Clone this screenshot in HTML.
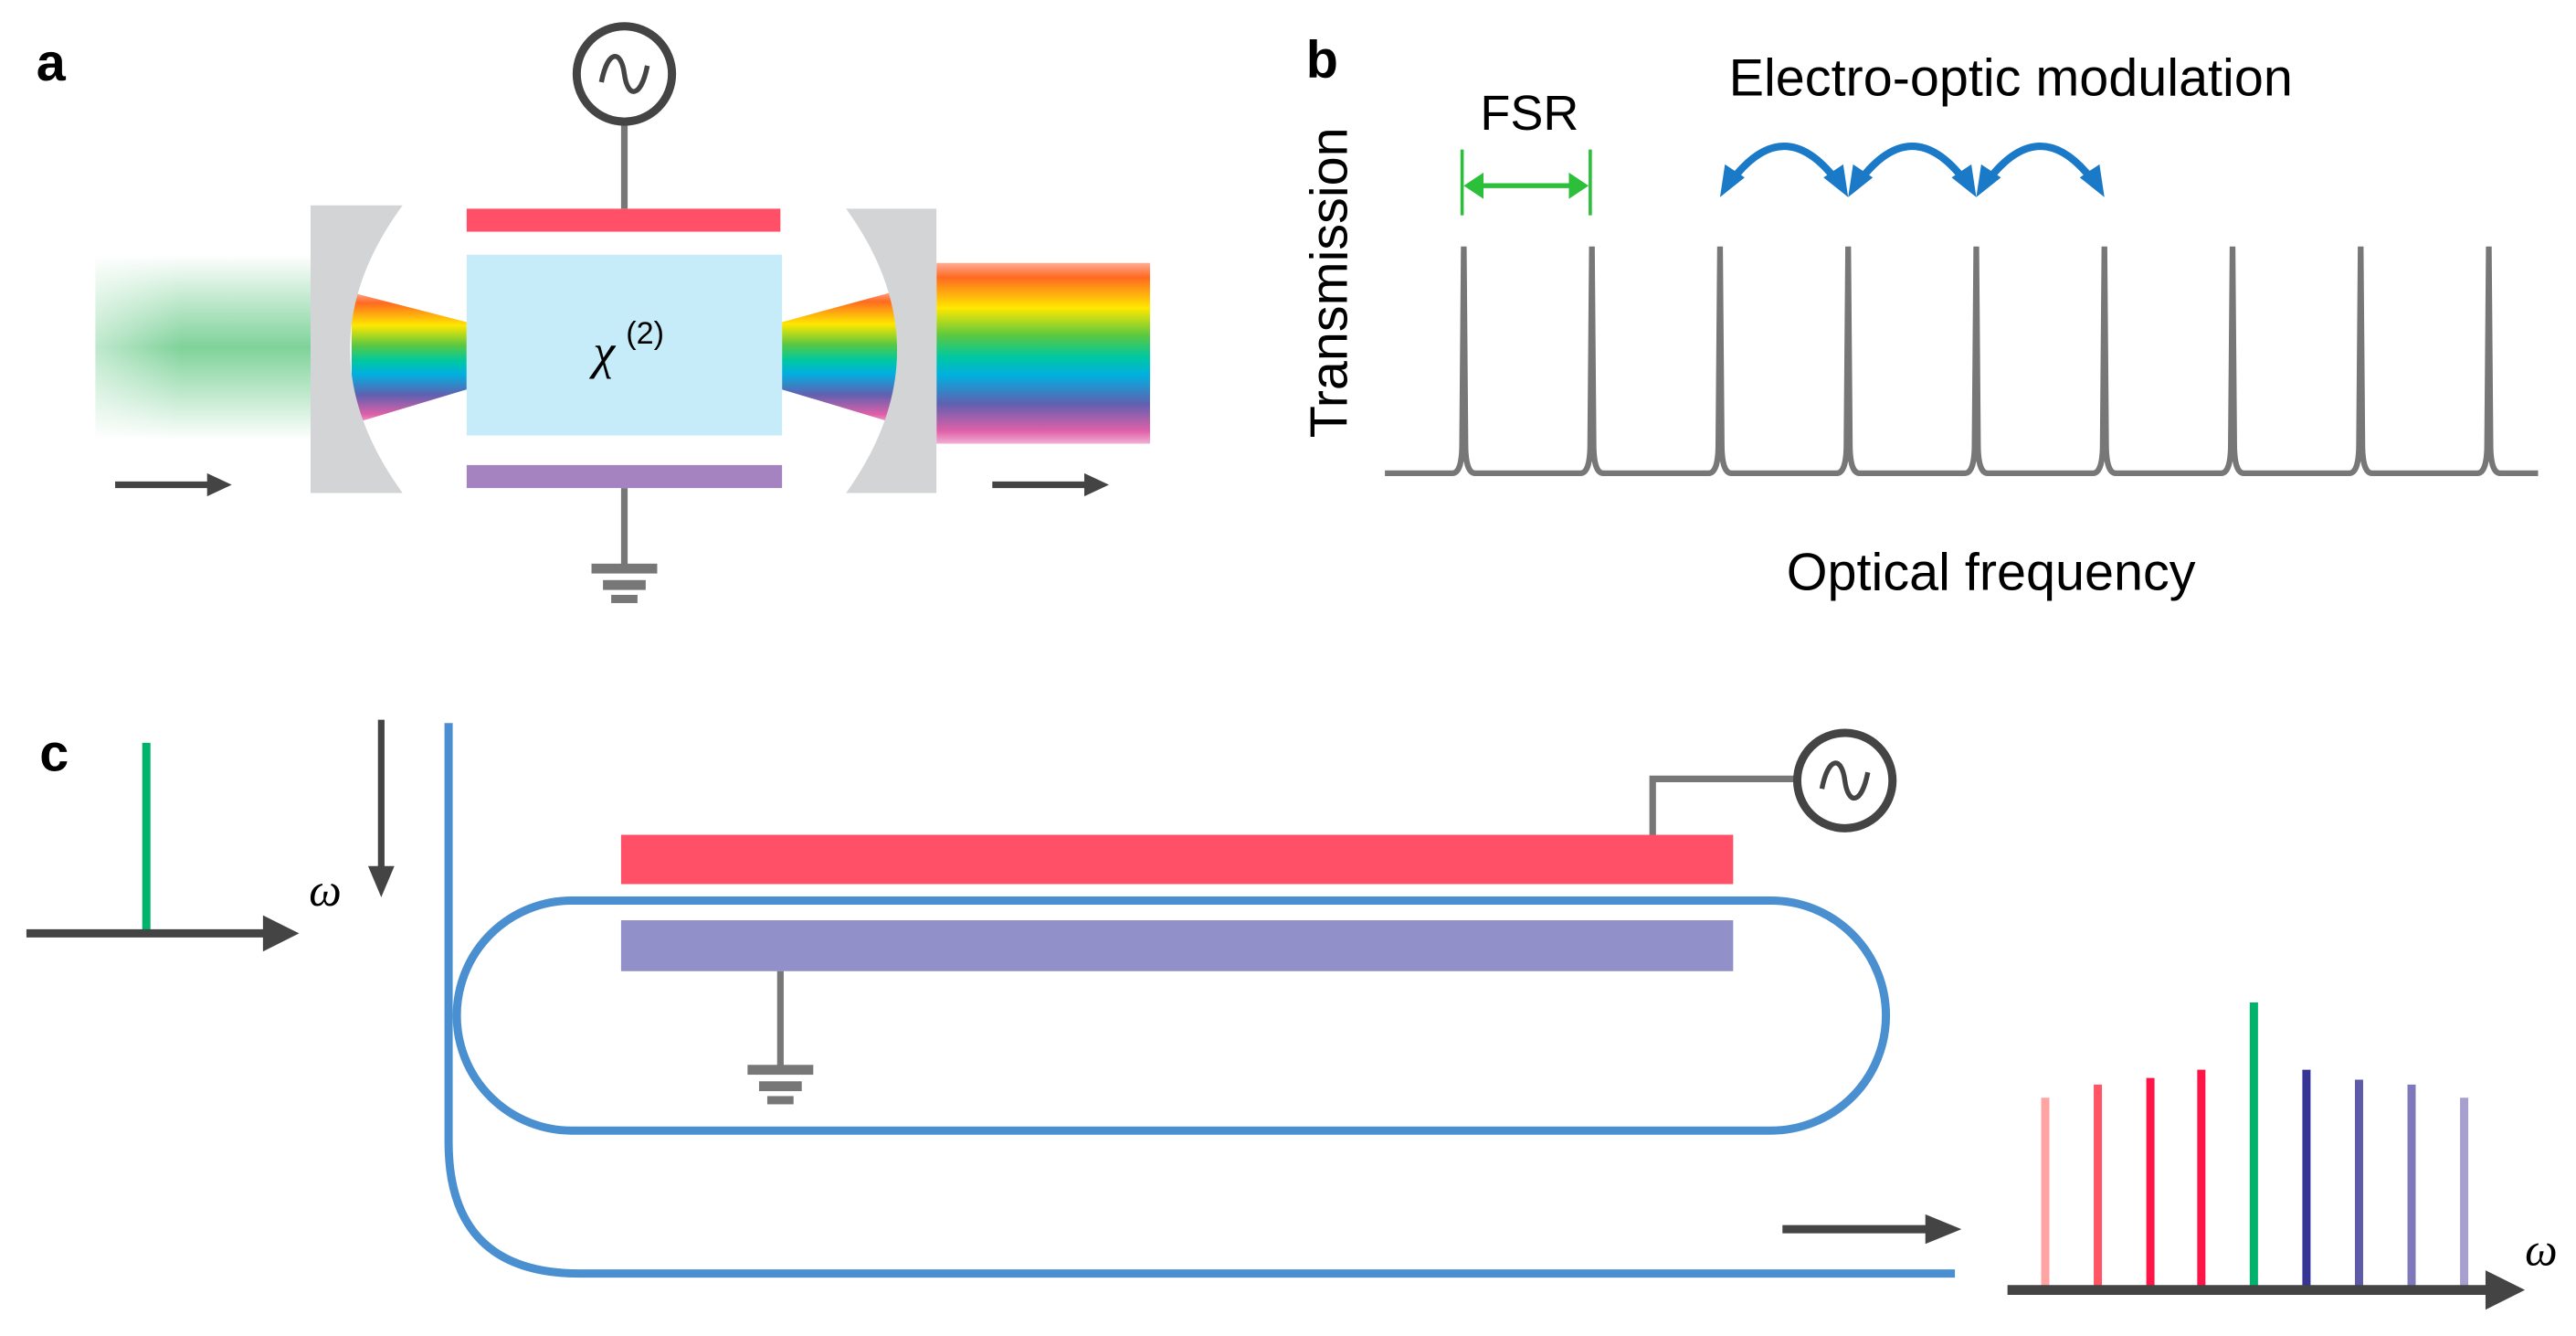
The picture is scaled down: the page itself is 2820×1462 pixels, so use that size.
<!DOCTYPE html>
<html><head><meta charset="utf-8"><style>html,body{margin:0;padding:0;background:#fff}svg{display:block}</style></head>
<body>
<svg width="2820" height="1462" viewBox="0 0 1568 813" xmlns="http://www.w3.org/2000/svg" font-family="Liberation Sans, sans-serif">
<defs>
<linearGradient id="rb" x1="0" y1="0" x2="0" y2="1">
<stop offset="0" stop-color="#ff5a28" stop-opacity="0.5"/><stop offset="0.08" stop-color="#ff6a20"/><stop offset="0.25" stop-color="#ffe800"/><stop offset="0.4" stop-color="#5cc840"/><stop offset="0.52" stop-color="#00c8a0"/><stop offset="0.62" stop-color="#00b0e0"/><stop offset="0.78" stop-color="#6060b0"/><stop offset="0.93" stop-color="#e060a8"/><stop offset="1" stop-color="#e060a8" stop-opacity="0.5"/>
</linearGradient>
<linearGradient id="gv" x1="0" y1="0" x2="0" y2="1">
<stop offset="0" stop-color="#7fd29a" stop-opacity="0"/><stop offset="0.5" stop-color="#7fd29a"/><stop offset="1" stop-color="#7fd29a" stop-opacity="0"/>
</linearGradient>
<linearGradient id="gh" x1="0" y1="0" x2="1" y2="0">
<stop offset="0" stop-color="#fff" stop-opacity="0.5"/><stop offset="0.4" stop-color="#fff" stop-opacity="0"/>
</linearGradient>
</defs>
<!-- Panel a -->
<text x="22" y="49" font-size="32" font-weight="bold">a</text>
<rect x="58" y="155" width="131" height="113" fill="url(#gv)"/>
<rect x="58" y="155" width="131" height="113" fill="url(#gh)"/>
<path d="M214,178 L284,196 L284,237 L214,258 Z" fill="url(#rb)"/>
<path d="M476,196 L546,177 L546,258 L476,237 Z" fill="url(#rb)"/>
<rect x="570" y="160" width="130" height="110" fill="url(#rb)"/>
<path d="M189,125 L245,125 Q181,212 245,300 L189,300 Z" fill="#d2d4d6"/>
<path d="M515,127 L570,127 L570,300 L515,300 Q577,213 515,127 Z" fill="#d2d4d6"/>
<rect x="284" y="155" width="192" height="110" fill="#c5ecf8"/>
<rect x="284" y="127" width="191" height="14" fill="#ff5068"/>
<rect x="284" y="283" width="192" height="14" fill="#a583c0"/>
<line x1="380" y1="75" x2="380" y2="127" stroke="#777" stroke-width="4"/>
<circle cx="380" cy="45" r="29" fill="#fff" stroke="#444" stroke-width="5"/>
<path d="M366,50 C370,30 378,30 380,45 C382,60 390,60 394,40" fill="none" stroke="#444" stroke-width="3"/>
<line x1="380" y1="297" x2="380" y2="345" stroke="#777" stroke-width="4"/>
<rect x="360" y="343" width="40" height="6" fill="#777"/><rect x="367" y="353" width="26" height="6" fill="#777"/><rect x="372" y="362" width="16" height="5" fill="#777"/>
<text x="361" y="224" font-family="Liberation Serif, serif" font-style="italic" font-size="30">χ</text>
<text x="381" y="209" font-size="19">(2)</text>
<line x1="70" y1="295" x2="128" y2="295" stroke="#444" stroke-width="4"/><path d="M126,288 L141,295 L126,302 Z" fill="#444"/>
<line x1="604" y1="295" x2="662" y2="295" stroke="#444" stroke-width="4"/><path d="M660,288 L675,295 L660,302 Z" fill="#444"/>
<!-- Panel b -->
<text x="795" y="47" font-size="32" font-weight="bold">b</text>
<text transform="translate(820,172) rotate(-90)" text-anchor="middle" font-size="32">Transmission</text>
<text x="931" y="79" text-anchor="middle" font-size="30">FSR</text>
<line x1="890" y1="91" x2="890" y2="131" stroke="#2bbf3a" stroke-width="2"/>
<line x1="968" y1="91" x2="968" y2="131" stroke="#2bbf3a" stroke-width="2"/>
<line x1="898" y1="113" x2="960" y2="113" stroke="#2bbf3a" stroke-width="3"/>
<path d="M891,113 L903,105 L903,121 Z M967,113 L955,105 L955,121 Z" fill="#2bbf3a"/>
<text x="1224" y="58" text-anchor="middle" font-size="32">Electro-optic modulation</text>
<g fill="none" stroke="#1a7ac8" stroke-width="4.5">
<path d="M1054,110 Q1086,68 1118,110"/><path d="M1132,110 Q1164,68 1196,110"/><path d="M1210,110 Q1242,68 1274,110"/>
</g>
<g fill="#1a7ac8">
<path d="M1047,120 L1050,100 L1062,108 Z M1125,120 L1110,108 L1122,100 Z"/>
<path d="M1125,120 L1128,100 L1140,108 Z M1203,120 L1188,108 L1200,100 Z"/>
<path d="M1203,120 L1206,100 L1218,108 Z M1281,120 L1266,108 L1278,100 Z"/>
</g>
<path fill="none" stroke="#777" stroke-width="3.5" d="M843,288 L884,288 Q890,288 890,270 L891,150 L892,270 Q892,288 898,288 L962,288 Q968,288 968,270 L969,150 L970,270 Q970,288 976,288 L1040,288 Q1046,288 1046,270 L1047,150 L1048,270 Q1048,288 1054,288 L1118,288 Q1124,288 1124,270 L1125,150 L1126,270 Q1126,288 1132,288 L1196,288 Q1202,288 1202,270 L1203,150 L1204,270 Q1204,288 1210,288 L1274,288 Q1280,288 1280,270 L1281,150 L1282,270 Q1282,288 1288,288 L1352,288 Q1358,288 1358,270 L1359,150 L1360,270 Q1360,288 1366,288 L1430,288 Q1436,288 1436,270 L1437,150 L1438,270 Q1438,288 1444,288 L1508,288 Q1514,288 1514,270 L1515,150 L1516,270 Q1516,288 1522,288 L1545,288"/>
<text x="1212" y="359" text-anchor="middle" font-size="32">Optical frequency</text>
<!-- Panel c -->
<text x="24" y="469" font-size="32" font-weight="bold">c</text>
<line x1="89" y1="452" x2="89" y2="566" stroke="#00b36b" stroke-width="5"/>
<line x1="16" y1="568" x2="165" y2="568" stroke="#444" stroke-width="5"/><path d="M160,557 L182,568 L160,579 Z" fill="#444"/>
<text x="188" y="551" font-family="Liberation Serif, serif" font-style="italic" font-size="28">ω</text>
<line x1="232" y1="438" x2="232" y2="530" stroke="#444" stroke-width="4"/><path d="M224,527 L232,546 L240,527 Z" fill="#444"/>
<path d="M273,440 L273,695 Q273,775 353,775 L1190,775" fill="none" stroke="#4a90d0" stroke-width="5"/>
<rect x="278" y="548" width="870" height="140" rx="70" fill="none" stroke="#4a90d0" stroke-width="5"/>
<rect x="378" y="508" width="677" height="30" fill="#ff5068"/>
<rect x="378" y="560" width="677" height="31" fill="#9290c8"/>
<path d="M1006,508 L1006,474 L1093,474" fill="none" stroke="#777" stroke-width="4"/>
<circle cx="1123" cy="475" r="29" fill="#fff" stroke="#444" stroke-width="5"/>
<path d="M1109,480 C1113,460 1121,460 1123,475 C1125,490 1133,490 1137,470" fill="none" stroke="#444" stroke-width="3"/>
<line x1="475" y1="591" x2="475" y2="650" stroke="#777" stroke-width="4"/>
<rect x="455" y="648" width="40" height="6" fill="#777"/><rect x="462" y="658" width="26" height="6" fill="#777"/><rect x="467" y="667" width="16" height="5" fill="#777"/>
<line x1="1085" y1="748" x2="1175" y2="748" stroke="#444" stroke-width="5"/><path d="M1172,739 L1194,748 L1172,757 Z" fill="#444"/>
<g stroke-width="5">
<line x1="1245" y1="668" x2="1245" y2="784" stroke="#ffa3a3"/>
<line x1="1277" y1="660" x2="1277" y2="784" stroke="#ff5565"/>
<line x1="1309" y1="656" x2="1309" y2="784" stroke="#ff1447"/>
<line x1="1340" y1="651" x2="1340" y2="784" stroke="#ff1447"/>
<line x1="1372" y1="610" x2="1372" y2="784" stroke="#00b36b"/>
<line x1="1404" y1="651" x2="1404" y2="784" stroke="#363595"/>
<line x1="1436" y1="657" x2="1436" y2="784" stroke="#5d5aa8"/>
<line x1="1468" y1="660" x2="1468" y2="784" stroke="#7f78bb"/>
<line x1="1500" y1="668" x2="1500" y2="784" stroke="#a79fd0"/>
</g>
<line x1="1222" y1="785" x2="1520" y2="785" stroke="#444" stroke-width="6"/><path d="M1513,773 L1537,785 L1513,797 Z" fill="#444"/>
<text x="1537" y="770" font-family="Liberation Serif, serif" font-style="italic" font-size="28">ω</text>
</svg>
</body></html>
